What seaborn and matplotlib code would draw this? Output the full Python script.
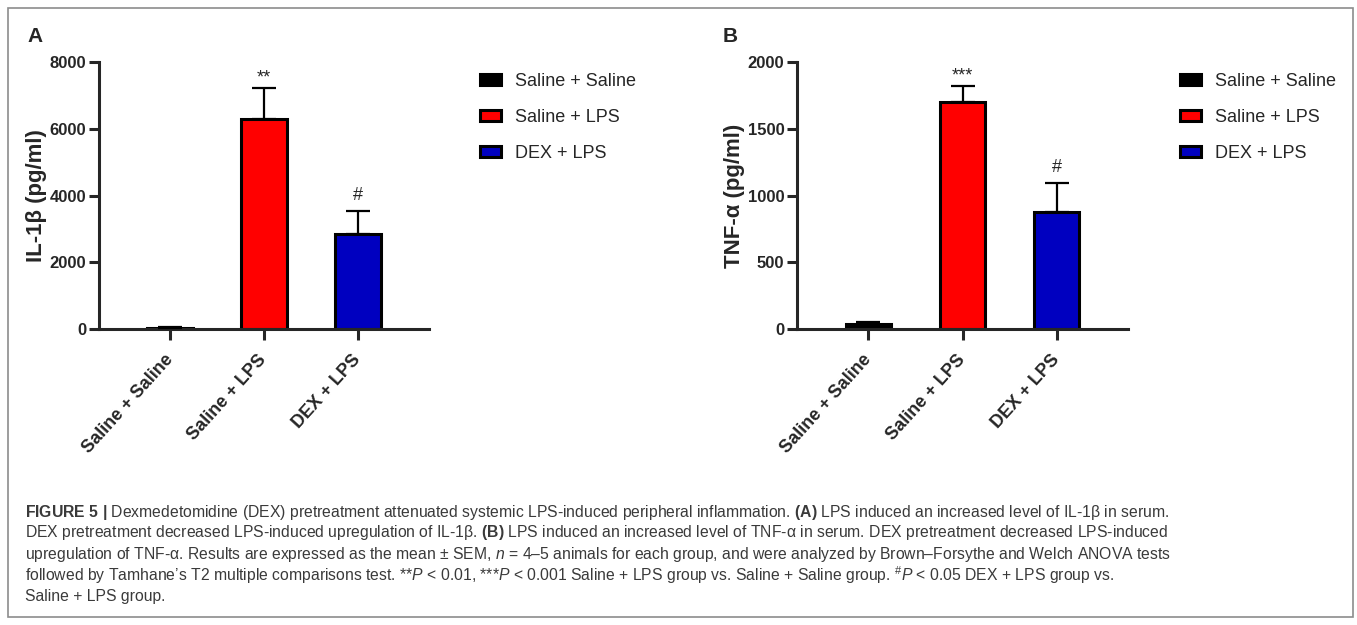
import numpy as np
import pandas as pd
import matplotlib
matplotlib.use('Agg')
import matplotlib.pyplot as plt
import matplotlib.transforms as mtransforms
from matplotlib.patches import Patch, Rectangle
import seaborn as sns

# Dados (média e SEM)
groups = ['Saline + Saline', 'Saline + LPS', 'DEX + LPS']
colors = ['#000000', '#FF0000', '#0000C0']

il1b_mean = [25, 6300, 2850]
il1b_sem = [45, 920, 690]
il1b_marks = ['', '**', '#']

tnf_mean = [35, 1700, 880]
tnf_sem = [17, 120, 210]
tnf_marks = ['', '***', '#']

caption_lines = [
    r"$\mathbf{FIGURE\ 5\ |}$ Dexmedetomidine (DEX) pretreatment attenuated systemic LPS-induced peripheral inflammation. $\mathbf{(A)}$ LPS induced an increased level of IL-1β in serum.",
    r"DEX pretreatment decreased LPS-induced upregulation of IL-1β. $\mathbf{(B)}$ LPS induced an increased level of TNF-α in serum. DEX pretreatment decreased LPS-induced",
    r"upregulation of TNF-α. Results are expressed as the mean ± SEM, $n$ = 4–5 animals for each group, and were analyzed by Brown–Forsythe and Welch ANOVA tests",
    r"followed by Tamhane’s T2 multiple comparisons test. **$P$ < 0.01, ***$P$ < 0.001 Saline + LPS group vs. Saline + Saline group. $^{\#}P$ < 0.05 DEX + LPS group vs.",
    r"Saline + LPS group.",
]

sns.set_style('ticks')
plt.rcParams['font.family'] = ['Liberation Sans', 'DejaVu Sans']
plt.rcParams['mathtext.fontset'] = 'custom'
plt.rcParams['mathtext.rm'] = 'Liberation Sans'
plt.rcParams['mathtext.it'] = 'Liberation Sans:italic'
plt.rcParams['mathtext.bf'] = 'Liberation Sans:bold'

W, H = 1357, 625
fig = plt.figure(figsize=(W / 100, H / 100), dpi=100)


def draw_panel(ax, means, sems, marks, ymax, ylabel, leg_x):
    df = pd.DataFrame({'group': groups, 'value': means})
    sns.barplot(data=df, x='group', y='value', hue='group', order=groups, hue_order=groups,
                palette=colors, saturation=1, width=0.48, edgecolor='black', linewidth=2.2,
                errorbar=None, legend=False, ax=ax)
    ax.errorbar(range(len(groups)), means, yerr=[np.zeros(len(means)), sems], fmt='none',
                ecolor='black', elinewidth=1.6, capsize=8.5, capthick=1.6, zorder=3)
    for i, mk in enumerate(marks):
        if mk:
            off = 11 if mk == '#' else 6
            ax.annotate(mk, xy=(i, means[i] + sems[i]), xytext=(0, off), textcoords='offset pixels',
                        ha='center', va='baseline', fontsize=13)

    ax.set_ylim(0, ymax)
    ax.set_xlim(-0.755, 2.755)
    ax.set_yticks(np.linspace(0, ymax, 5))
    ax.set_yticklabels([f'{int(v)}' for v in np.linspace(0, ymax, 5)], fontweight='bold', fontsize=12)
    ax.set_xticks(range(len(groups)))
    ax.set_xticklabels(groups, rotation=48, ha='right', va='center', rotation_mode='anchor',
                       fontweight='bold', fontsize=13)
    shift = mtransforms.ScaledTranslation(3 / 100, 0, fig.dpi_scale_trans)
    for lbl in ax.get_xticklabels():
        lbl.set_transform(lbl.get_transform() + shift)
    ax.set_xlabel('')
    ax.set_ylabel(ylabel, fontsize=16, fontweight='bold')
    ax.yaxis.set_label_coords(-0.158, 0.5)
    sns.despine(ax=ax)
    for sp in ['left', 'bottom']:
        ax.spines[sp].set_linewidth(2.2)
    ax.tick_params(axis='y', length=7, width=2.2, pad=2)
    ax.tick_params(axis='x', length=8, width=2.2, pad=12)

    handles = [Patch(facecolor=c, edgecolor='black', linewidth=2.2, label=g) for g, c in zip(groups, colors)]
    ax.legend(handles=handles, loc='upper left', bbox_to_anchor=(leg_x / W, 1 - 73 / H),
              bbox_transform=fig.transFigure, frameon=False, fontsize=13,
              handlelength=1.17, handleheight=0.61, handletextpad=0.8,
              labelspacing=1.05, borderpad=0, borderaxespad=0)


axA = fig.add_axes([99 / W, 1 - 329 / H, 330 / W, 267 / H])
axB = fig.add_axes([797 / W, 1 - 329 / H, 331 / W, 267 / H])

draw_panel(axA, il1b_mean, il1b_sem, il1b_marks, 8000, 'IL-1β (pg/ml)', 479.5)
draw_panel(axB, tnf_mean, tnf_sem, tnf_marks, 2000, 'TNF-α (pg/ml)', 1179.5)

fig.text(27 / W, 1 - 42 / H, 'A', fontsize=15, fontweight='bold', va='baseline')
fig.text(723 / W, 1 - 42 / H, 'B', fontsize=15, fontweight='bold', va='baseline')

# Legenda da figura
for k, line in enumerate(caption_lines):
    fig.text(25 / W, 1 - (512 + 21 * k) / H, line, fontsize=11.35, color='#3a3a3a',
             ha='left', va='center')

fig.add_artist(Rectangle((8 / W, 1 - 617 / H), (1353 - 8) / W, (617 - 8) / H,
                         transform=fig.transFigure, fill=False, edgecolor='#8c8c8c', linewidth=1.2))

fig.savefig('out.png', dpi=100)
